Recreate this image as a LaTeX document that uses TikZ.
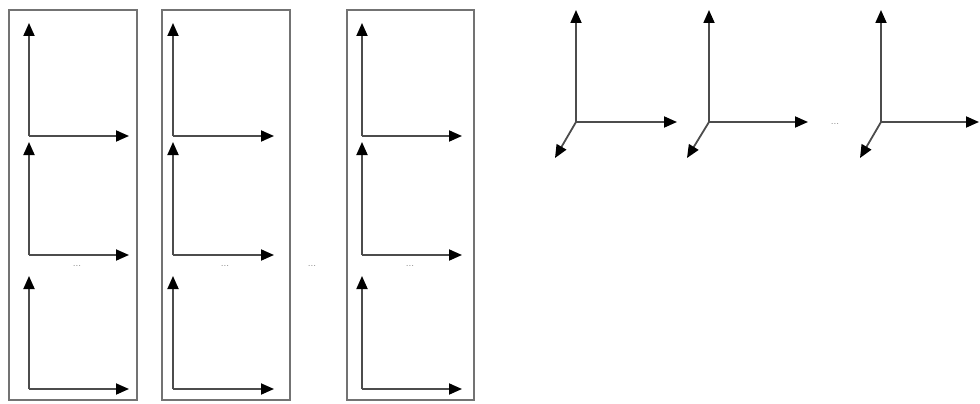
\documentclass[tikz,border=0pt]{standalone}
\usetikzlibrary{arrows.meta}
\begin{document}
\begin{tikzpicture}[x=1pt,y=-1pt,
  axis/.style={draw=black!70,line width=1.8pt,-{Triangle[length=13pt,width=11pt,color=black]}},
  frame/.style={draw=black!55,line width=1.2pt},
  dots/.style={font=\normalsize,text=black!50,inner sep=0pt}]
\useasboundingbox (0,0) rectangle (980,404);

% stacked 2D frames inside each panel
\foreach \n/\bl/\br/\ax/\tip in {1/9/137/29/129, 2/162/290/173/274, 3/347/474/362/462}{
  \draw[frame] (\bl,10) rectangle (\br,400);
  \foreach \k/\base in {a/136, b/255, c/389}{
    \coordinate (o\n\k) at (\ax,\base);
    \coordinate (y\n\k) at (\ax,\base-113);
    \coordinate (x\n\k) at (\tip,\base);
    \draw[axis] (o\n\k) -- (y\n\k);
    \draw[axis] (o\n\k) -- (x\n\k);
  }
}
\node[dots] (d1) at (77,266) {...};
\node[dots] (d2) at (225,266) {...};
\node[dots] (d3) at (312,266) {...};
\node[dots] (d4) at (410,266) {...};

% 3D frames
\foreach \n/\ox/\xt/\dx in {1/576/677/555, 2/709/808/687, 3/881/979/860}{
  \coordinate (O\n) at (\ox,122);
  \coordinate (Y\n) at (\ox,10);
  \coordinate (X\n) at (\xt,122);
  \coordinate (Z\n) at (\dx,158);
  \draw[axis] (O\n) -- (Y\n);
  \draw[axis] (O\n) -- (X\n);
  \draw[axis] (O\n) -- (Z\n);
}
\node[dots] (d5) at (835,124) {...};
\end{tikzpicture}
\end{document}
